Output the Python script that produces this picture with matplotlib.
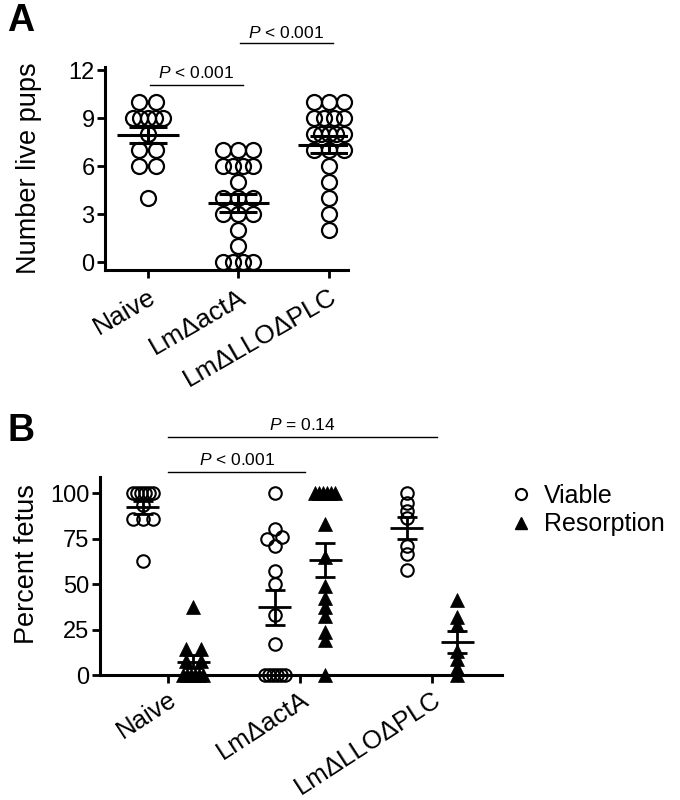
import numpy as np
import matplotlib
matplotlib.use('Agg')
import matplotlib.pyplot as plt
from matplotlib.lines import Line2D

plt.rcParams['font.family'] = ['Liberation Sans', 'DejaVu Sans']
plt.rcParams['mathtext.fontset'] = 'custom'
plt.rcParams['mathtext.it'] = 'Liberation Sans:italic'
plt.rcParams['mathtext.rm'] = 'Liberation Sans'

# ---------------- data ----------------
groups = ['Naive', 'LmΔactA', 'LmΔLLOΔPLC']

pups_naive = [10, 10, 9, 9, 9, 9, 9, 8, 7, 7, 6, 6, 4]
pups_actA = [7, 7, 7, 6, 6, 6, 6, 5, 4, 4, 4, 3, 3, 3, 2, 1, 0, 0, 0, 0]
pups_llo = [10, 10, 10, 9, 9, 9, 9, 8, 8, 8, 8, 8, 7, 7, 7, 6, 5, 4, 3, 2]

viable_naive = [100, 100, 100, 100, 100, 100, 93.5, 85.7, 85.7, 85.7, 62.5]
resorb_naive = [37.5, 14.3, 14.3, 7.7, 7.7, 0, 0, 0, 0, 0, 0]
viable_actA = [100, 80, 76, 75, 71, 57, 50, 33, 17, 0, 0, 0, 0, 0, 0]
resorb_actA = [100, 100, 100, 100, 100, 100, 83, 64.6, 48.8, 42.3, 37.6, 32.6, 23.6, 19, 0]
viable_llo = [100, 94.5, 90, 86, 71, 66.5, 57.5]
resorb_llo = [41.3, 32, 27.4, 13.4, 8.8, 4.1, 0]

pA_ticks = [0, 3, 6, 9, 12]
pB_ticks = [0, 25, 50, 75, 100]

# ---------------- helpers ----------------
W, H = 680, 800
fig = plt.figure(figsize=(W / 100, H / 100), dpi=100)


def px_box(l, t, r, b):
    return [l / W, 1 - b / H, (r - l) / W, (b - t) / H]


def row_offsets(vals, tol, spacing, maxspan):
    vals = np.asarray(vals, float)
    offs = np.zeros(len(vals))
    order = np.argsort(vals, kind='stable')
    groups_ = []
    cur = [order[0]]
    for i in order[1:]:
        if abs(vals[i] - vals[cur[0]]) <= tol:
            cur.append(i)
        else:
            groups_.append(cur)
            cur = [i]
    groups_.append(cur)
    for g in groups_:
        k = len(g)
        if k > 1:
            s = min(spacing, maxspan / (k - 1))
            offs[g] = (np.arange(k) - (k - 1) / 2) * s
    return offs


def mean_sem(ax, x, vals, wmean, wcap, lw):
    v = np.asarray(vals, float)
    m = v.mean()
    s = v.std(ddof=1) / np.sqrt(len(v))
    kw = dict(color='black', lw=lw, zorder=5, solid_capstyle='butt')
    ax.plot([x - wmean, x + wmean], [m, m], **kw)
    ax.plot([x - wcap, x + wcap], [m + s, m + s], **kw)
    ax.plot([x - wcap, x + wcap], [m - s, m - s], **kw)
    ax.plot([x, x], [m - s, m + s], **kw)


def style_axes(ax):
    for sp in ['top', 'right']:
        ax.spines[sp].set_visible(False)
    for sp in ['left', 'bottom']:
        ax.spines[sp].set_linewidth(2.2)
    ax.tick_params(width=2.0, length=5.5, labelsize=17, pad=2)


# ---------------- Panel A ----------------
axA = fig.add_axes(px_box(105, 67, 348, 270))
xlimA = (-0.475, 2.21)
ylimA = (-0.5, 12.2)
axA.set_xlim(*xlimA)
axA.set_ylim(*ylimA)
pxA = (348 - 105) / (xlimA[1] - xlimA[0])
style_axes(axA)

for i, vals in enumerate([pups_naive, pups_actA, pups_llo]):
    offs = row_offsets(vals, 0.01, 17 / pxA, 30 / pxA)
    axA.plot(i + offs, vals, ls='none', marker='o', ms=10.8, mfc='none',
             mec='black', mew=1.6, clip_on=False, zorder=3)
    mean_sem(axA, i, vals, 0.34, 0.21, 2.2)

axA.set_yticks(pA_ticks)
axA.set_xticks(range(3))
axA.set_xticklabels(groups, rotation=30, ha='right', va='top',
                    rotation_mode='anchor', fontsize=19)
axA.tick_params(axis='x', pad=5)
axA.set_ylabel('Number live pups', fontsize=19.5)
axA.yaxis.set_label_coords(-0.26, 0.5)

# significance brackets A
axA.plot([0.02, 1.05], [11.05, 11.05], color='black', lw=1.0, clip_on=False)
axA.text(0.535, 11.3, r'$P$ < 0.001', ha='center', va='bottom', fontsize=12.5)
axA.plot([1.02, 2.04], [13.7, 13.7], color='black', lw=1.0, clip_on=False)
axA.text(1.53, 13.85, r'$P$ < 0.001', ha='center', va='bottom', fontsize=12.5)

# ---------------- Panel B ----------------
axB = fig.add_axes(px_box(100, 477, 502, 675))
xlimB = (-0.515, 2.53)
ylimB = (0, 108.8)
axB.set_xlim(*xlimB)
axB.set_ylim(*ylimB)
pxB = (502 - 100) / (xlimB[1] - xlimB[0])
style_axes(axB)

dx = 0.19
viab = [viable_naive, viable_actA, viable_llo]
reso = [resorb_naive, resorb_actA, resorb_llo]
for i in range(3):
    v = viab[i]
    offs = row_offsets(v, 2.5, 15 / pxB, 20 / pxB)
    axB.plot(i - dx + offs, v, ls='none', marker='o', ms=9, mfc='none',
             mec='black', mew=1.5, clip_on=False, zorder=3)
    mean_sem(axB, i - dx, v, 0.125, 0.077, 2.0)
    r = reso[i]
    offs = row_offsets(r, 2.5, 15 / pxB, 20 / pxB)
    axB.plot(i + dx + offs, r, ls='none', marker='^', ms=9.5, mfc='black',
             mec='black', mew=0.5, clip_on=False, zorder=3)
    mean_sem(axB, i + dx, r, 0.125, 0.077, 2.0)

axB.set_yticks(pB_ticks)
axB.set_xticks(range(3))
axB.set_xticklabels(groups, rotation=33, ha='right', va='top',
                    rotation_mode='anchor', fontsize=18.5)
axB.tick_params(axis='x', pad=3)
axB.set_ylabel('Percent fetus', fontsize=19.5)
axB.yaxis.set_label_coords(-0.15, 0.56)

axB.plot([0.0, 1.04], [111.5, 111.5], color='black', lw=1.0, clip_on=False)
axB.text(0.52, 113.5, r'$P$ < 0.001', ha='center', va='bottom', fontsize=12.5)
axB.plot([0.0, 2.04], [130.8, 130.8], color='black', lw=1.0, clip_on=False)
axB.text(1.02, 132.8, r'$P$ = 0.14', ha='center', va='bottom', fontsize=12.5)

handles = [Line2D([], [], ls='none', marker='o', ms=8, mfc='none', mec='black', mew=1.5),
           Line2D([], [], ls='none', marker='^', ms=9, mfc='black', mec='black')]
fig.legend(handles, ['Viable', 'Resorption'], loc='upper left',
           bbox_to_anchor=(496 / W, 1 - 474 / H), frameon=False, fontsize=18,
           handletextpad=0.3, labelspacing=0.18, handlelength=1.2, borderaxespad=0)

# panel letters
fig.text(7 / W, 1 - 21 / H, 'A', fontsize=27, fontweight='bold', ha='left', va='center')
fig.text(7 / W, 1 - 431 / H, 'B', fontsize=27, fontweight='bold', ha='left', va='center')

fig.savefig('out.png', dpi=100)
